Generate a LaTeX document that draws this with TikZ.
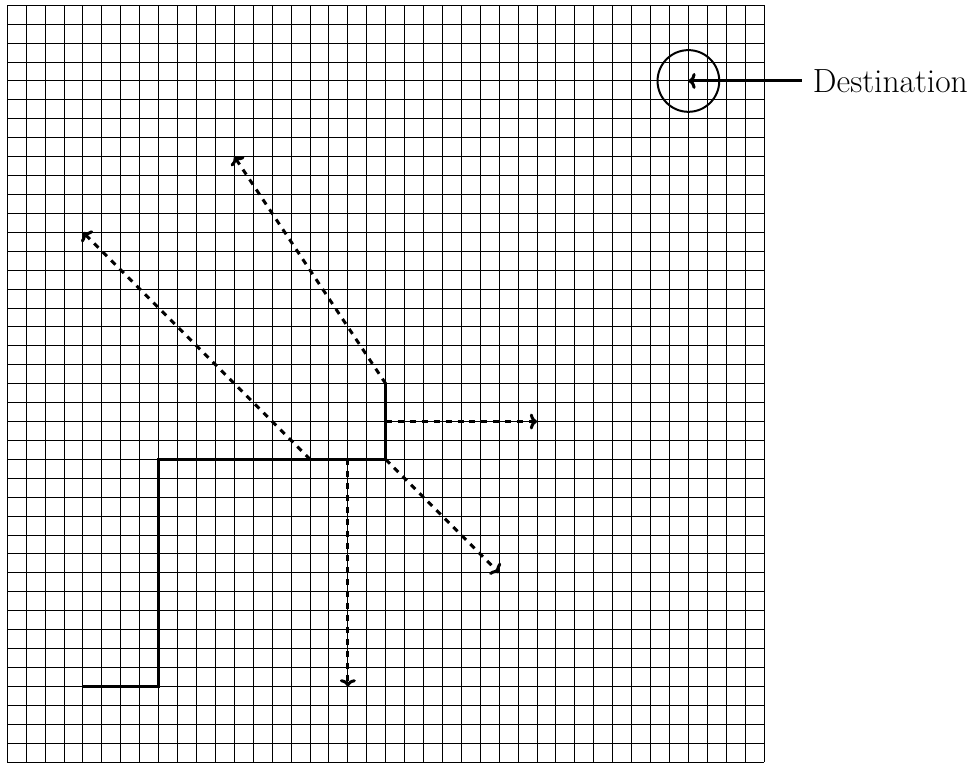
\documentclass[tikz,border=0pt]{standalone}
\usetikzlibrary{arrows.meta}
\begin{document}
\begin{tikzpicture}[x=0.3333cm,y=0.3333cm,
  gridline/.style={line width=0.5pt},
  route/.style={line width=1.5pt},
  tip/.style={-{To[length=3.6pt,width=8pt]}},
  probe/.style={line width=1.5pt,dashed,tip},
  pointer/.style={line width=1.5pt,tip},
  target/.style={circle,draw,line width=1pt,inner sep=0pt,minimum size=1.087cm}]
\useasboundingbox (-0.386,0) rectangle (50.99,40.28);
\draw[gridline,step=1] (0,0) grid (40,40);
% route corners
\coordinate (r0) at (4,4);
\coordinate (r1) at (8,4);
\coordinate (r2) at (8,16);
\coordinate (r3) at (16,16);
\coordinate (r4) at (18,16);
\coordinate (r5) at (20,16);
\coordinate (r6) at (20,18);
\coordinate (r7) at (20,20);
% probe ends
\coordinate (e1) at (12,32);
\coordinate (e2) at (4,28);
\coordinate (e3) at (28,18);
\coordinate (e4) at (26,10);
\coordinate (e5) at (18,4);
\draw[route] (r0) -- (r1) -- (r2) -- (r5) -- (r7);
\draw[probe] (r7) -- (e1);
\draw[probe] (r3) -- (e2);
\draw[probe] (r6) -- (e3);
\draw[probe] (r5) -- (e4);
\draw[probe] (r4) -- (e5);
% destination
\node[target] (dest) at (36,36) {};
\coordinate (tail) at (42,36);
\node[right,xshift=2pt,font=\fontsize{16.8}{20}\selectfont] (label) at (tail) {Destination};
\draw[pointer] (tail) -- (dest.center);
\end{tikzpicture}
\end{document}
